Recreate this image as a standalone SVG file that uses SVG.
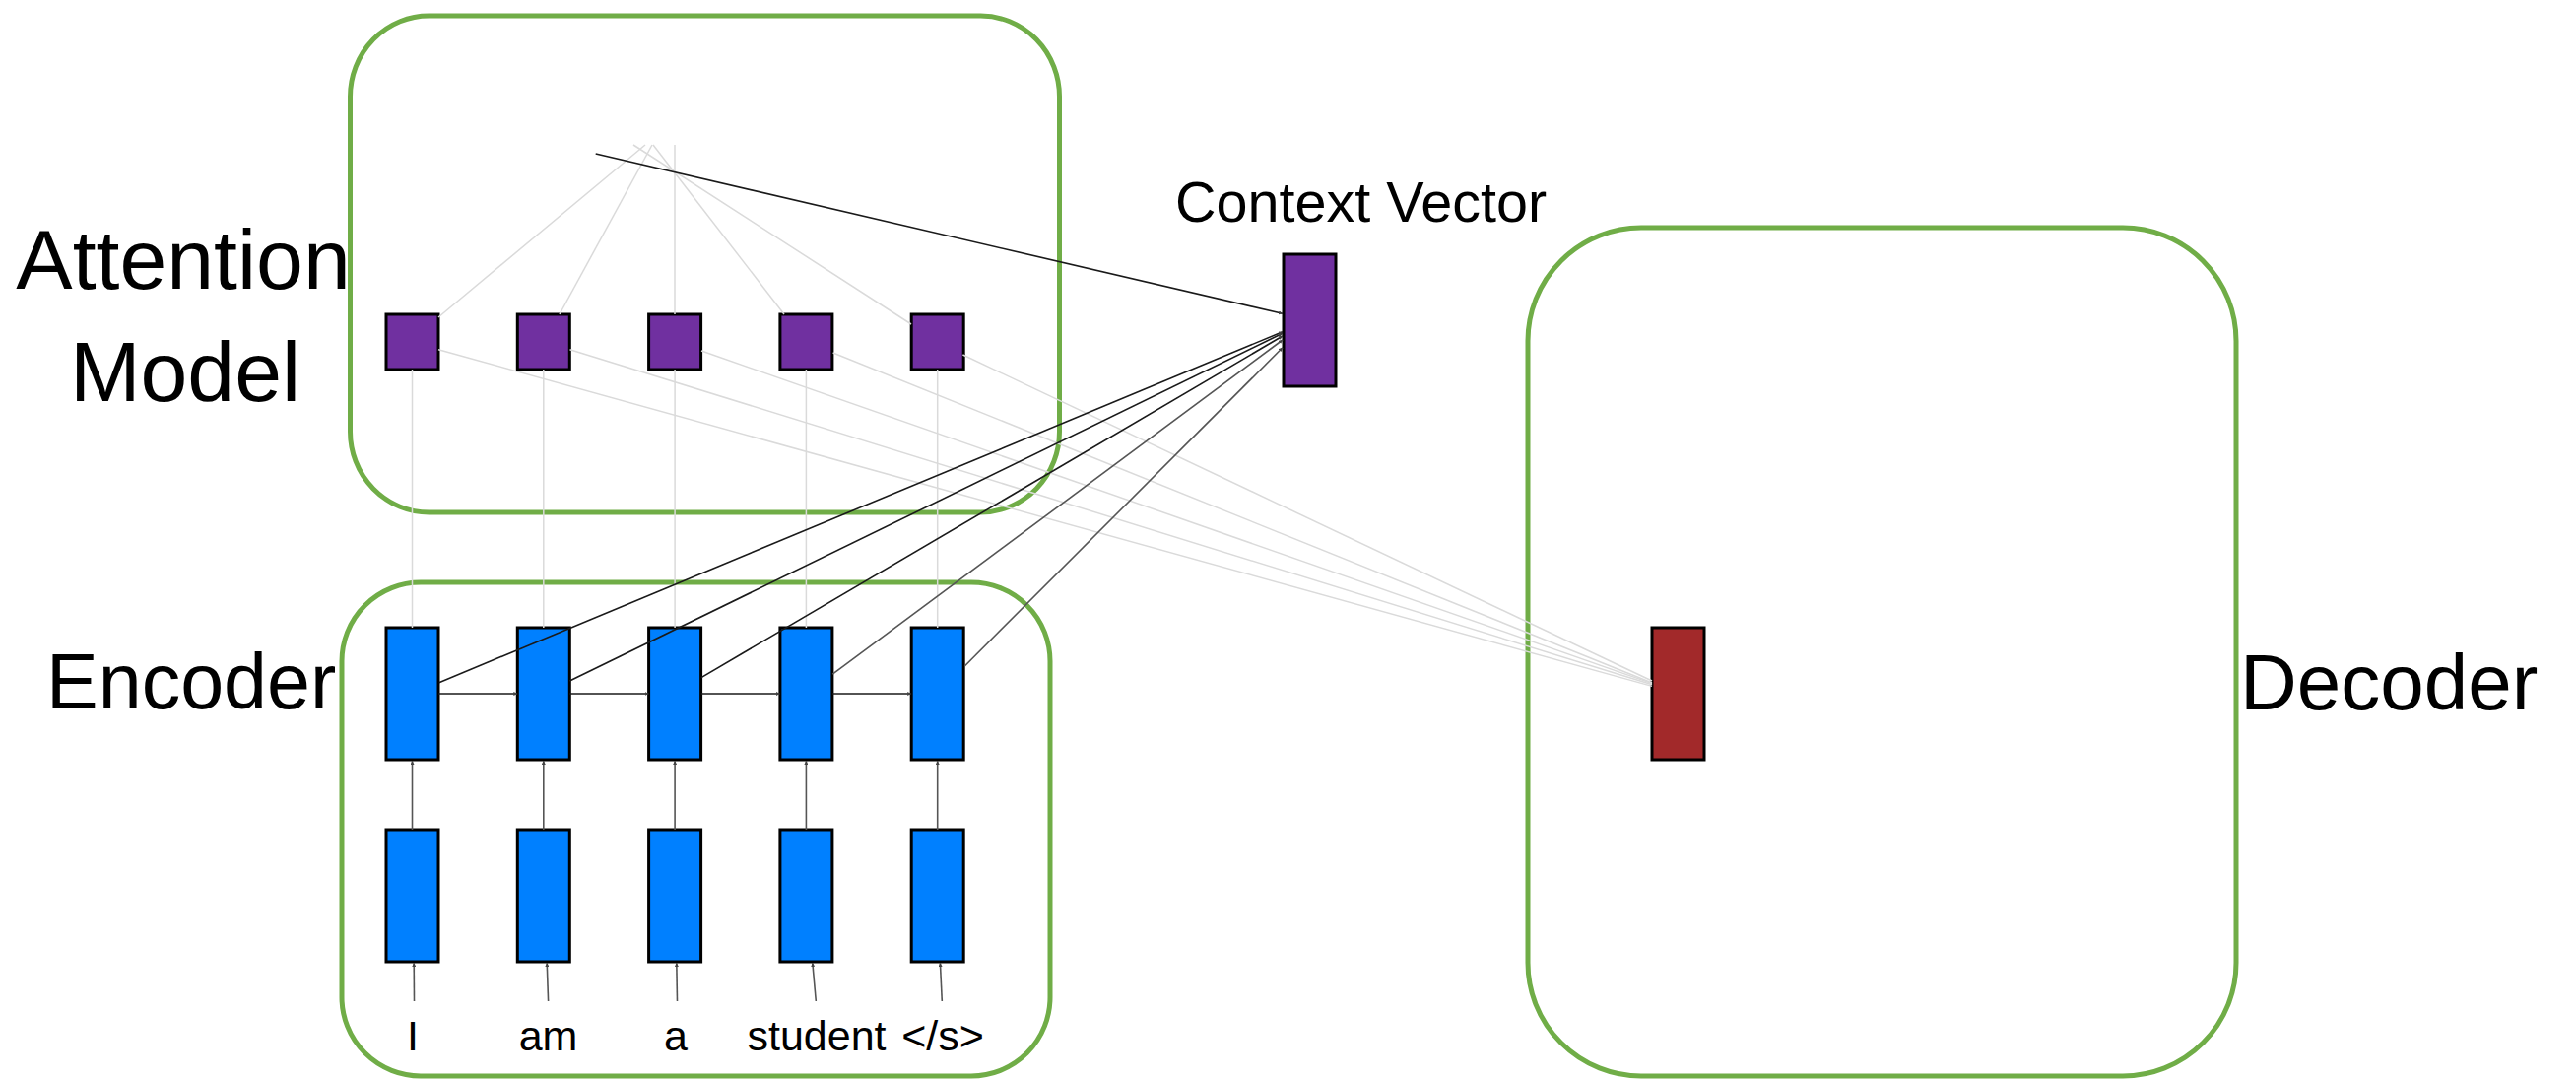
<svg xmlns="http://www.w3.org/2000/svg" width="2615" height="1095" viewBox="0 0 2615 1095">
<style>
.box{fill:none;stroke:#70AD47;stroke-width:5}
.lbl{font-family:"Liberation Sans",Arial,sans-serif;fill:#000}
.enc{fill:#0080FF;stroke:#000;stroke-width:3}
.att{fill:#7030A0;stroke:#000;stroke-width:3}
.dec{fill:#A2292A;stroke:#000;stroke-width:3}
.gray{stroke:#DADADA;stroke-width:1.5;fill:none}
.blk{stroke:#1a1a1a;stroke-width:1.6;fill:none}
.dk{stroke:#555;stroke-width:1.6;fill:none}
</style>
<defs>
<marker id="ah" viewBox="0 0 6 6" refX="6" refY="3" markerWidth="4" markerHeight="4" markerUnits="userSpaceOnUse" orient="auto">
<path d="M0,0 L6,3 L0,6 z" fill="#444"/>
</marker>
</defs>

<g id="attention-model-box">
<rect class="box" x="355.5" y="16" width="720" height="504" rx="80" ry="82"/>
<text class="lbl" x="186" y="293" font-size="86" text-anchor="middle">Attention</text>
<text class="lbl" x="188" y="407" font-size="86" text-anchor="middle">Model</text>
</g>
<g id="encoder-box">
<rect class="box" x="347" y="591" width="719" height="501" rx="80" ry="80"/>
<text class="lbl" x="47" y="719" font-size="79">Encoder</text>
</g>
<g id="decoder-box">
<rect class="box" x="1551" y="231" width="719" height="861" rx="115" ry="115"/>
<text class="lbl" x="2274" y="720" font-size="80">Decoder</text>
</g>

<g id="attention-nodes">
<rect id="att1" class="att" x="392" y="319" width="53" height="56"/>
<rect id="att2" class="att" x="525.3" y="319" width="53" height="56"/>
<rect id="att3" class="att" x="658.6" y="319" width="53" height="56"/>
<rect id="att4" class="att" x="791.9" y="319" width="53" height="56"/>
<rect id="att5" class="att" x="925.2" y="319" width="53" height="56"/>
</g>

<g id="context-vector">
<rect class="att" x="1303" y="258" width="53" height="134"/>
<text class="lbl" x="1193" y="225" font-size="57.5">Context Vector</text>
</g>

<g id="decoder-state">
<rect class="dec" x="1677" y="637" width="53" height="134"/>
</g>

<g id="encoder-top">
<rect id="h1" class="enc" x="392" y="637" width="53" height="134"/>
<rect id="h2" class="enc" x="525.3" y="637" width="53" height="134"/>
<rect id="h3" class="enc" x="658.6" y="637" width="53" height="134"/>
<rect id="h4" class="enc" x="791.9" y="637" width="53" height="134"/>
<rect id="h5" class="enc" x="925.2" y="637" width="53" height="134"/>
</g>
<g id="encoder-bottom">
<rect id="e1" class="enc" x="392" y="842" width="53" height="134"/>
<rect id="e2" class="enc" x="525.3" y="842" width="53" height="134"/>
<rect id="e3" class="enc" x="658.6" y="842" width="53" height="134"/>
<rect id="e4" class="enc" x="791.9" y="842" width="53" height="134"/>
<rect id="e5" class="enc" x="925.2" y="842" width="53" height="134"/>
</g>

<g id="words" class="lbl" font-size="43" text-anchor="middle">
<text x="419" y="1066">I</text>
<text x="556.5" y="1066">am</text>
<text x="686" y="1066">a</text>
<text x="829" y="1066">student</text>
<text x="957" y="1066">&lt;/s&gt;</text>
</g>

<g id="connectors">
<line class="gray" x1="655" y1="147" x2="445" y2="322"/>
<line class="gray" x1="662" y1="147" x2="568" y2="319"/>
<line class="gray" x1="685" y1="147" x2="685" y2="319"/>
<line class="gray" x1="663" y1="147" x2="796" y2="319"/>
<line class="gray" x1="643" y1="147" x2="925" y2="329"/>
<line class="gray" x1="418.5" y1="375" x2="418.5" y2="637"/>
<line class="gray" x1="551.8" y1="375" x2="551.8" y2="637"/>
<line class="gray" x1="685.1" y1="375" x2="685.1" y2="637"/>
<line class="gray" x1="818.4" y1="375" x2="818.4" y2="637"/>
<line class="gray" x1="951.7" y1="375" x2="951.7" y2="637"/>
<line class="gray" x1="445" y1="354.7" x2="1677" y2="696.4"/>
<line class="gray" x1="578.5" y1="354.7" x2="1677" y2="694.8"/>
<line class="gray" x1="712" y1="356" x2="1677" y2="693.6"/>
<line class="gray" x1="845.6" y1="358" x2="1677" y2="693"/>
<line class="gray" x1="977.4" y1="360" x2="1677" y2="691"/>
<line class="blk" x1="604.7" y1="156" x2="1302" y2="318.3" marker-end="url(#ah)"/>
<line class="blk" x1="445.7" y1="692.7" x2="1302" y2="336.7" marker-end="url(#ah)"/>
<line class="blk" x1="578.3" y1="691" x2="1302" y2="338.3" marker-end="url(#ah)"/>
<line class="blk" x1="711.9" y1="687.6" x2="1302" y2="341" marker-end="url(#ah)"/>
<line class="dk" x1="845.2" y1="684.1" x2="1302" y2="345" marker-end="url(#ah)"/>
<line class="dk" x1="979.3" y1="676" x2="1302" y2="352.7" marker-end="url(#ah)"/>
<line class="blk" x1="445" y1="704" x2="525.3" y2="704" marker-end="url(#ah)"/>
<line class="blk" x1="578.3" y1="704" x2="658.6" y2="704" marker-end="url(#ah)"/>
<line class="blk" x1="711.6" y1="704" x2="791.9" y2="704" marker-end="url(#ah)"/>
<line class="blk" x1="844.9" y1="704" x2="925.2" y2="704" marker-end="url(#ah)"/>
<line class="dk" x1="418.5" y1="842" x2="418.5" y2="772" marker-end="url(#ah)"/>
<line class="dk" x1="551.8" y1="842" x2="551.8" y2="772" marker-end="url(#ah)"/>
<line class="dk" x1="685.1" y1="842" x2="685.1" y2="772" marker-end="url(#ah)"/>
<line class="dk" x1="818.4" y1="842" x2="818.4" y2="772" marker-end="url(#ah)"/>
<line class="dk" x1="951.7" y1="842" x2="951.7" y2="772" marker-end="url(#ah)"/>
<line class="dk" x1="420.5" y1="1016" x2="420.2" y2="977" marker-end="url(#ah)"/>
<line class="dk" x1="556.6" y1="1016" x2="555.2" y2="977" marker-end="url(#ah)"/>
<line class="dk" x1="687.5" y1="1016" x2="686.8" y2="977" marker-end="url(#ah)"/>
<line class="dk" x1="828.3" y1="1016" x2="824.8" y2="977" marker-end="url(#ah)"/>
<line class="dk" x1="956.3" y1="1016" x2="954.4" y2="977" marker-end="url(#ah)"/>
</g>
</svg>
